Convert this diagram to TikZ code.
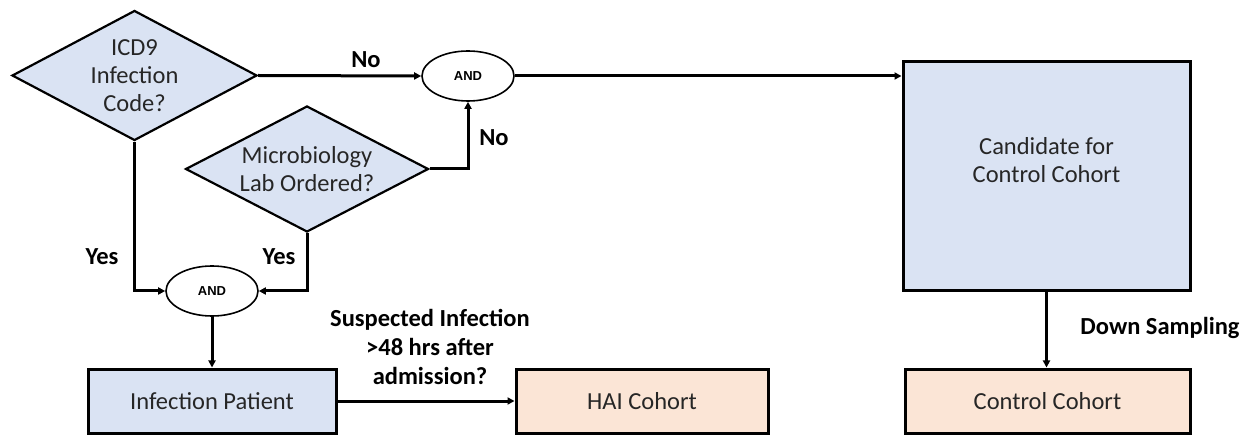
\documentclass[tikz,border=0pt]{standalone}
\usepackage{fontspec}
\setmainfont{Carlito}
\newfontfamily\andfont{Liberation Sans}
\usetikzlibrary{shapes.geometric,arrows.meta}
\definecolor{boxblue}{HTML}{DAE3F3}
\definecolor{boxorange}{HTML}{FBE5D6}
\definecolor{txtcol}{HTML}{262626}
\begin{document}
\begin{tikzpicture}[x=1pt,y=-1pt,
  txt/.style={font=\fontsize{24.5}{28}\selectfont, align=center, text=txtcol, inner sep=0pt},
  lbl/.style={font=\fontsize{24.5}{29}\selectfont\bfseries, align=center, inner sep=0pt},
  decision/.style={diamond, draw, line width=2.2pt, fill=boxblue, inner sep=0pt},
  andnode/.style={ellipse, draw, line width=1.6pt, fill=white, minimum width=92pt, minimum height=50pt, inner sep=0pt, font=\andfont\fontsize{13}{13}\selectfont\bfseries},
  box/.style={rectangle, draw, line width=3pt, inner sep=0pt, font=\fontsize{24.5}{28}\selectfont, text=txtcol, align=center},
  conn/.style={line width=3pt, -{Triangle[length=7pt,width=7pt]}},
]
\useasboundingbox (0,0) rectangle (1247,435);

% decisions
\node[decision, minimum width=245pt, minimum height=130pt, label={[txt]center:ICD9\\Infection\\Code?}] (d1) at (134.5,75.5) {};
\node[decision, minimum width=243pt, minimum height=126pt, label={[txt]center:Microbiology\\Lab Ordered?}] (d2) at (307,169) {};

% AND nodes
\node[andnode] (e1) at (468,76) {AND};
\node[andnode] (e2) at (212,291) {AND};

% boxes
\node[box, fill=boxblue, minimum width=248pt, minimum height=64pt] (ip) at (212,401) {Infection Patient};
\node[box, fill=boxorange, minimum width=252pt, minimum height=64pt] (hai) at (642,401) {HAI Cohort};
\node[box, fill=boxblue, minimum width=287pt, minimum height=229pt, label={[txt,yshift=16pt]center:Candidate for\\Control Cohort}] (cand) at (1046.5,176.5) {};
\node[box, fill=boxorange, minimum width=285pt, minimum height=64pt] (cc) at (1047.5,401) {Control Cohort};

% connectors
\draw[conn] (d1.east) -- (e1.west);
\draw[conn] (e1.east) -- (e1.east -| cand.west);
\draw[conn] (d2.east) -| (e1.south);
\draw[conn] (d1.south) |- (e2.west);
\draw[conn] (d2.south) |- (e2.east);
\draw[conn] (e2.south) -- (ip.north);
\draw[conn] (ip.east) -- (hai.west);
\draw[conn] (cand.south) -- (cand.south |- cc.north);

% labels
\node[lbl] (lno1) at (366,60) {No};
\node[lbl] (lno2) at (494,138) {No};
\node[lbl] (lyes1) at (102,257) {Yes};
\node[lbl] (lyes2) at (279,257) {Yes};
\node[lbl] (lsusp) at (430,347) {Suspected Infection\\>48 hrs after\\admission?};
\node[lbl] (ldown) at (1160,328) {Down Sampling};
\end{tikzpicture}
\end{document}
